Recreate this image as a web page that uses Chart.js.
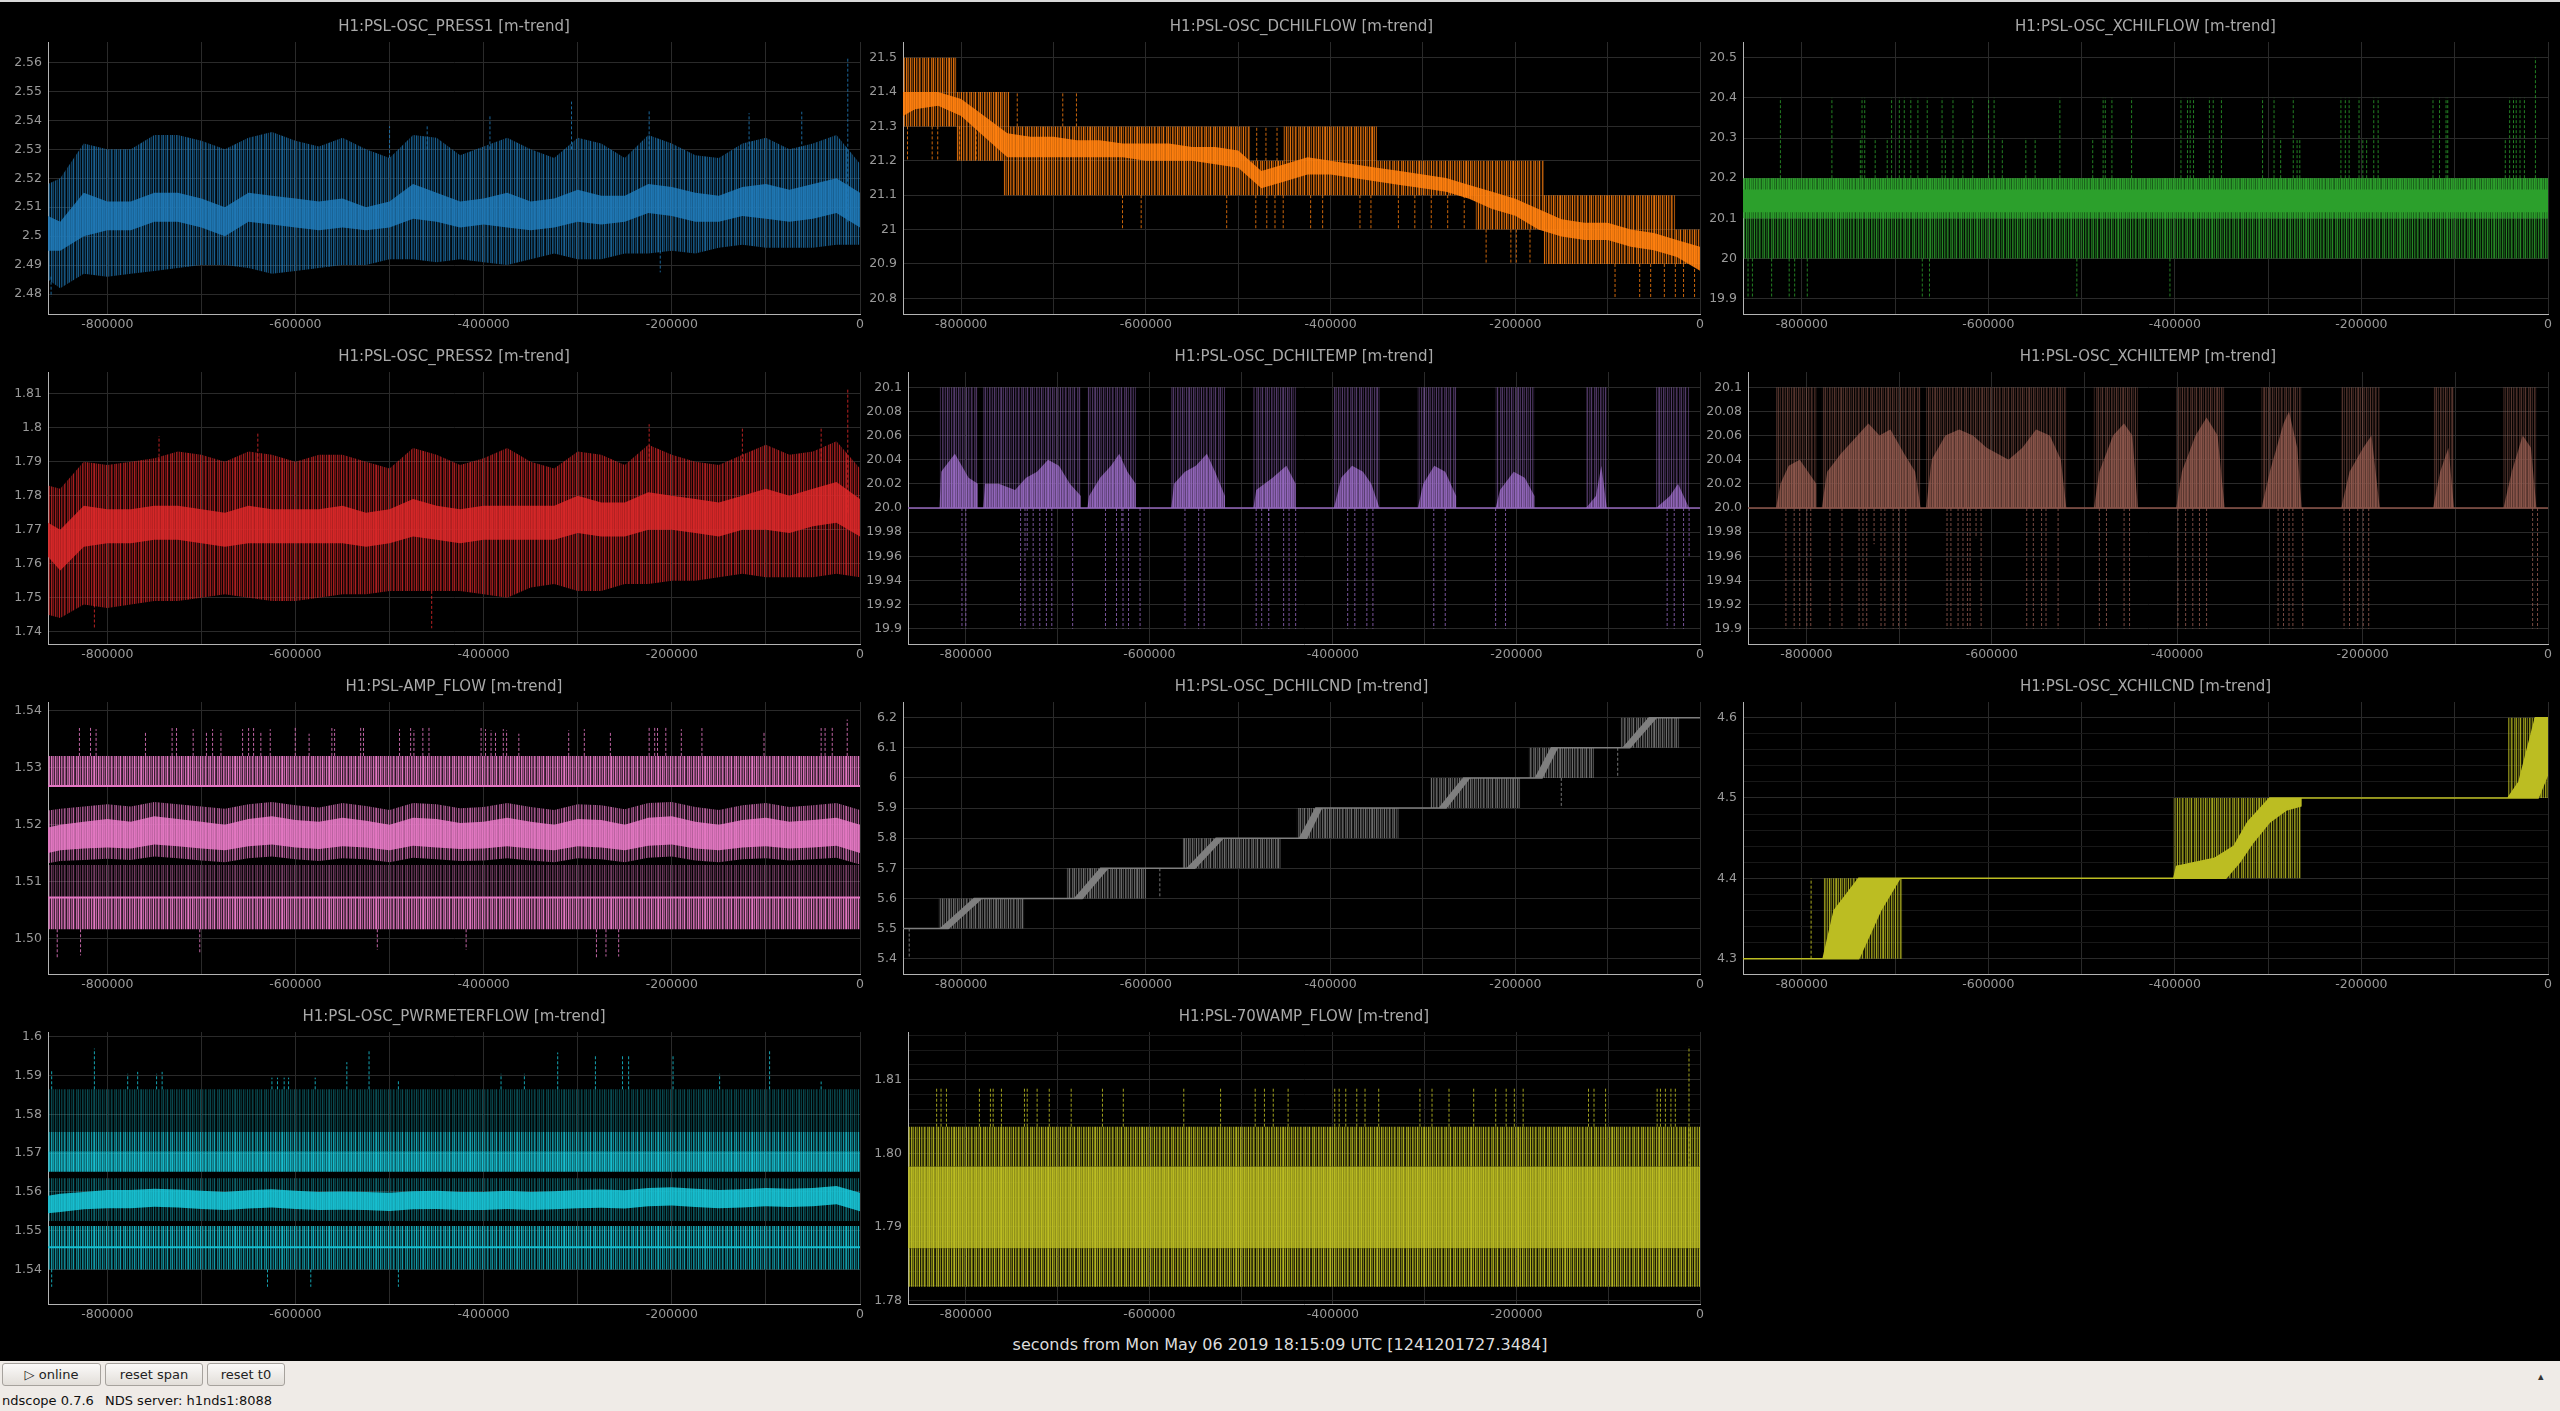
<!DOCTYPE html>
<html><head><meta charset="utf-8">
<script src="https://cdn.jsdelivr.net/npm/chart.js@4.4.1/dist/chart.umd.min.js"></script>
<style>
html,body{margin:0;padding:0;background:#000;width:2560px;height:1411px;overflow:hidden;font-family:"DejaVu Sans",sans-serif;}
#topline{position:absolute;left:0;top:0;width:2560px;height:2px;background:#d9d9d9}
canvas{position:absolute}
#xlabel{position:absolute;left:0;width:2560px;top:1335px;text-align:center;color:#dcdcdc;font-size:16px;line-height:20px}
#bar{position:absolute;left:0;top:1361px;width:2560px;height:50px;background:#efebe7}
.btn{position:absolute;top:2px;height:21px;border:1px solid #a6a29d;border-radius:3px;background:linear-gradient(#fbfaf9,#e2ded9);font-size:13px;line-height:21px;text-align:center;color:#222}
.status{position:absolute;top:32px;font-size:13px;line-height:16px;color:#111;white-space:pre}
</style></head>
<body>
<div id="topline"></div>
<div id="xlabel">seconds from Mon May 06 2019 18:15:09 UTC [1241201727.3484]</div>
<div id="bar">
  <div class="btn" style="left:2px;width:97px">&#9655; online</div>
  <div class="btn" style="left:105px;width:96px">reset span</div>
  <div class="btn" style="left:207px;width:76px">reset t0</div>
  <div class="status" style="left:2px">ndscope 0.7.6</div>
  <div class="status" style="left:105px">NDS server: h1nds1:8088</div>
  <div class="status" style="left:2538px;top:8px;font-size:11px;color:#333">&#9652;</div>
</div>
<script>
Chart.defaults.font.family = '"DejaVu Sans", sans-serif';

// ---------------- axes ----------------
const X_MIN = -863000;
const xTickVals = [-800000,-700000,-600000,-500000,-400000,-300000,-200000,-100000,0];
const xTickLabels = ['-800000','','-600000','','-400000','','-200000','','0'];

// shared sample times (seconds)
const T = [-863000,-850000,-825000,-800000,-775000,-750000,-725000,-700000,-675000,-650000,-625000,-600000,-575000,-550000,-525000,-500000,-475000,-450000,-425000,-400000,-375000,-350000,-325000,-300000,-275000,-250000,-225000,-200000,-175000,-150000,-125000,-100000,-75000,-50000,-25000,0];
const T2 = [-863000, 0];

// ---------------- PRESS1 ----------------
const p1TickVals = [2.48,2.49,2.5,2.51,2.52,2.53,2.54,2.55,2.56];
const p1TickLabels = ['2.48','2.49','2.5','2.51','2.52','2.53','2.54','2.55','2.56'];
const p1Max = [2.518,2.520,2.532,2.530,2.530,2.535,2.535,2.533,2.530,2.534,2.536,2.533,2.531,2.534,2.530,2.527,2.535,2.534,2.528,2.531,2.534,2.530,2.527,2.534,2.532,2.527,2.535,2.532,2.528,2.527,2.532,2.534,2.530,2.532,2.535,2.525];
const p1Min = [2.485,2.482,2.487,2.486,2.487,2.488,2.489,2.490,2.490,2.489,2.487,2.488,2.489,2.490,2.490,2.492,2.492,2.491,2.492,2.491,2.490,2.492,2.494,2.492,2.492,2.494,2.494,2.495,2.494,2.496,2.497,2.496,2.496,2.496,2.497,2.497];
const p1CoreHi = [2.507,2.505,2.515,2.512,2.512,2.515,2.515,2.513,2.510,2.515,2.514,2.513,2.512,2.513,2.510,2.512,2.518,2.515,2.512,2.513,2.515,2.512,2.513,2.516,2.514,2.514,2.518,2.517,2.515,2.514,2.517,2.518,2.516,2.518,2.520,2.515];
const p1CoreLo = [2.495,2.495,2.500,2.502,2.502,2.505,2.505,2.503,2.500,2.505,2.504,2.503,2.502,2.503,2.502,2.503,2.506,2.505,2.503,2.504,2.503,2.502,2.503,2.505,2.504,2.505,2.508,2.507,2.505,2.505,2.507,2.506,2.505,2.506,2.508,2.503];
const p1Spikes = [[-13000,2.505,2.5615],[-306600,2.53,2.5465],[-393300,2.53,2.542],[-224100,2.53,2.5435],[-61900,2.53,2.543],[-117900,2.53,2.5425],[-859700,2.486,2.479],[-212300,2.495,2.4875],[-500000,2.527,2.538],[-460000,2.53,2.5385]];

// ---------------- DCHILFLOW ----------------
const dfTickVals = [20.8,20.9,21,21.1,21.2,21.3,21.4,21.5];
const dfTickLabels = ['20.8','20.9','21','21.1','21.2','21.3','21.4','21.5'];
const dfX   = [-863000,-805000,-805000,-754000,-754000,-748000,-748000,-487000,-487000,-451000,-451000,-350000,-350000,-243000,-243000,-169000,-169000,-27000,-27000,0];
const dfMax = [21.5,21.5,21.4,21.4,21.4,21.4,21.3,21.3,21.2,21.2,21.3,21.3,21.2,21.2,21.2,21.2,21.1,21.1,21.0,21.0];
const dfMin = [21.3,21.3,21.2,21.2,21.1,21.1,21.1,21.1,21.1,21.1,21.1,21.1,21.1,21.1,21.0,21.0,20.9,20.9,20.9,20.9];
const dfCoreHi = [21.40,21.40,21.40,21.38,21.33,21.28,21.27,21.27,21.26,21.26,21.25,21.25,21.25,21.24,21.24,21.23,21.17,21.19,21.21,21.20,21.19,21.18,21.17,21.16,21.15,21.13,21.11,21.09,21.06,21.03,21.02,21.02,21.00,20.99,20.97,20.95];
const dfCoreLo = [21.33,21.35,21.36,21.33,21.27,21.21,21.21,21.21,21.21,21.21,21.21,21.20,21.20,21.20,21.19,21.18,21.12,21.14,21.16,21.16,21.15,21.14,21.13,21.12,21.11,21.09,21.06,21.04,21.00,20.98,20.97,20.97,20.95,20.94,20.92,20.88];
const dfSpikes = [[-858100,21.3,21.2],[-831400,21.3,21.2],[-825400,21.3,21.2],[-801700,21.3,21.2],[-783800,21.3,21.2],
  [-739300,21.3,21.4],[-690000,21.3,21.4],[-675200,21.3,21.4],[-480000,21.2,21.3],[-470000,21.2,21.3],[-458000,21.2,21.3],
  [-625300,21.1,21.0],[-605100,21.1,21.0],[-512500,21.1,21.0],[-481000,21.1,21.0],[-469100,21.1,21.0],[-460200,21.1,21.0],[-451300,21.1,21.0],[-421600,21.1,21.0],[-408600,21.1,21.0],[-368200,21.1,21.0],[-356300,21.1,21.0],[-326600,21.1,21.0],[-308800,21.1,21.0],[-291000,21.1,21.0],[-273200,21.1,21.0],[-255300,21.1,21.0],
  [-231600,21.0,20.9],[-204800,21.0,20.9],[-198900,21.0,20.9],[-184100,21.0,20.9],
  [-92000,20.9,20.8],[-65300,20.9,20.8],[-53400,20.9,20.8],[-38600,20.9,20.8],[-26700,20.9,20.8],[-17800,20.9,20.8],[-5900,20.9,20.8]];

// ---------------- XCHILFLOW ----------------
const xfTickVals = [19.9,20,20.1,20.2,20.3,20.4,20.5];
const xfTickLabels = ['19.9','20','20.1','20.2','20.3','20.4','20.5'];
const xfMax = [20.2,20.2], xfMin = [20.0,20.0];
const xfUpperHi = [20.2,20.2], xfUpperLo = [20.1,20.1];
const xfCoreHi = [20.172,20.172], xfCoreLo = [20.115,20.115];
const xfUp4X = [-822900,-767700,-735400,-732500,-703700,-695400,-690100,-683100,-675500,-665500,-649600,-637900,-616700,-599700,-593800,-523300,-476900,-474600,-467500,-446400,-393500,-386500,-383600,-380000,-363000,-358900,-350100,-306000,-293700,-273100,-222000,-217300,-213200,-202600,-186800,-182100,-123300,-116300,-109300,-107500,-41100,-37000,-34100,-30000,-25300];
const xfUp3X = [-737200,-721300,-708400,-646100,-627300,-585000,-559800,-549800,-488100,-286600,-269000,-266100,-198500,-194400,-45800];
const xfDnX = [-857600,-852900,-832300,-813500,-807600,-794100,-670800,-663100,-505100,-405300];
const xfSpikes = xfUp4X.map(x=>[x,20.2,20.4]).concat(xfUp3X.map(x=>[x,20.2,20.3]), xfDnX.map(x=>[x,20.0,19.9]), [[-13500,20.2,20.5]]);

// ---------------- PRESS2 ----------------
const p2TickVals = [1.74,1.75,1.76,1.77,1.78,1.79,1.8,1.81];
const p2TickLabels = ['1.74','1.75','1.76','1.77','1.78','1.79','1.8','1.81'];
const p2Max = [1.783,1.782,1.790,1.789,1.790,1.791,1.793,1.792,1.790,1.793,1.792,1.790,1.792,1.792,1.790,1.788,1.794,1.792,1.789,1.791,1.794,1.790,1.788,1.793,1.792,1.789,1.795,1.792,1.790,1.789,1.792,1.795,1.792,1.793,1.796,1.788];
const p2Min = [1.745,1.744,1.748,1.747,1.748,1.749,1.749,1.750,1.751,1.750,1.749,1.749,1.750,1.751,1.751,1.752,1.752,1.752,1.752,1.751,1.750,1.753,1.754,1.752,1.752,1.754,1.754,1.755,1.755,1.756,1.757,1.756,1.756,1.756,1.757,1.756];
const p2CoreHi = [1.772,1.770,1.777,1.776,1.776,1.777,1.777,1.776,1.775,1.777,1.776,1.776,1.776,1.777,1.775,1.776,1.779,1.777,1.776,1.777,1.777,1.777,1.777,1.780,1.778,1.778,1.781,1.780,1.779,1.778,1.780,1.782,1.780,1.782,1.784,1.779];
const p2CoreLo = [1.762,1.758,1.765,1.766,1.766,1.767,1.767,1.766,1.765,1.766,1.766,1.766,1.766,1.766,1.765,1.766,1.768,1.767,1.766,1.767,1.767,1.767,1.767,1.769,1.768,1.768,1.770,1.770,1.769,1.768,1.770,1.770,1.769,1.771,1.772,1.768];
const p2Spikes = [[-13000,1.775,1.8115],[-224100,1.79,1.801],[-125000,1.79,1.800],[-41300,1.79,1.800],[-455200,1.752,1.741],[-813700,1.748,1.741],[-745000,1.79,1.7975],[-640000,1.79,1.7985]];

// ---------------- DCHILTEMP / XCHILTEMP ----------------
const tempTickVals = [19.9,19.92,19.94,19.96,19.98,20,20.02,20.04,20.06,20.08,20.1];
const tempTickLabels = ['19.9','19.92','19.94','19.96','19.98','20.0','20.02','20.04','20.06','20.08','20.1'];
const tempBase = 20.0, tempTop = 20.1;
const dtClusterStart = [-828700,-780900,-667500,-576100,-486600,-398800,-307500,-222700,-124200,-47800];
const dtClusterEnd   = [-786900,-674600,-614900,-517600,-440600,-349300,-265700,-180300,-101500,-11900];
const dtCoreX = [-863000,-828700,-826900,-811900,-797000,-786900,-786900,-780900,-779100,-764200,-746300,-734300,-722400,-710400,-698500,-686600,-674600,-674600,-667500,-665700,-653700,-641800,-632800,-623900,-614900,-614900,-576100,-573100,-561200,-549300,-537300,-528400,-517600,-517600,-486600,-483600,-465700,-450700,-440600,-440600,-398800,-391000,-379100,-367200,-358200,-349300,-307500,-301500,-289600,-277600,-265700,-265700,-222700,-217900,-203000,-191000,-180300,-180300,-124200,-113400,-107500,-101500,-47800,-32800,-23900,-11900,0];
const dtCoreY = [20.0,20.0,20.03,20.045,20.025,20.02,20.0,20.0,20.02,20.02,20.015,20.025,20.03,20.04,20.035,20.02,20.01,20.0,20.0,20.01,20.025,20.035,20.045,20.03,20.02,20.0,20.0,20.02,20.03,20.035,20.045,20.03,20.01,20.0,20.0,20.015,20.025,20.035,20.02,20.0,20.0,20.025,20.035,20.03,20.02,20.0,20.0,20.02,20.035,20.03,20.01,20.0,20.0,20.015,20.03,20.025,20.01,20.0,20.0,20.01,20.035,20.0,20.0,20.01,20.02,20.0,20.0];
const dtDownX = [-804200,-800000,-740300,-735500,-726600,-719400,-712200,-706300,-683600,-647800,-635800,-628700,-622700,-610100,-561200,-546300,-540300,-483600,-477600,-469900,-453700,-447800,-440600,-383900,-376100,-363000,-356400,-290100,-277600,-222700,-211900,-35800,-28100,-17900];
const dtSpikes = dtDownX.map(x=>[x,20.0,19.9]).concat([[-11900,20.0,19.96],[-733100,20.0,19.965],[-630000,20.0,19.98],[-470000,20.0,19.985]]);

const xtClusterStart = [-832700,-783500,-670800,-489900,-401000,-309000,-223000,-124000,-48000];
const xtClusterEnd   = [-789400,-676800,-519600,-442500,-348800,-265700,-181500,-101400,-12500];
const xtCoreX = [-863000,-832700,-828000,-819100,-807200,-798300,-789400,-789400,-783500,-777600,-762800,-744900,-733100,-721200,-709400,-694500,-682700,-676800,-670800,-664900,-650100,-635200,-620400,-605600,-593700,-581900,-567000,-552200,-537400,-525500,-519600,-489900,-484000,-469200,-457300,-448400,-442500,-401000,-395000,-380200,-368300,-356500,-348800,-309000,-300100,-285300,-279400,-270500,-265700,-223000,-214100,-199300,-190400,-181500,-124000,-116300,-107400,-101400,-48000,-39100,-27300,-18400,-12500,0];
const xtCoreY = [20.0,20.0,20.02,20.035,20.04,20.03,20.02,20.0,20.0,20.03,20.045,20.06,20.07,20.06,20.065,20.045,20.03,20.0,20.0,20.04,20.06,20.065,20.06,20.05,20.045,20.04,20.05,20.065,20.06,20.04,20.0,20.0,20.03,20.06,20.07,20.06,20.0,20.0,20.03,20.06,20.075,20.06,20.0,20.0,20.03,20.07,20.08,20.05,20.0,20.0,20.03,20.05,20.06,20.0,20.0,20.03,20.05,20.0,20.0,20.03,20.06,20.05,20.0,20.0];
const xtDownX = [-822100,-813200,-807200,-799500,-795300,-774600,-761600,-743200,-739000,-734900,-719500,-715300,-706400,-700500,-692800,-648300,-644100,-636400,-631100,-626300,-623400,-611500,-562300,-555200,-546300,-541500,-528500,-484000,-476300,-457300,-451400,-399200,-390900,-383200,-376000,-368300,-291200,-285300,-279400,-275200,-264600,-220000,-214100,-205200,-199300,-193400,-16600,-11300];
const xtSpikes = xtDownX.map(x=>[x,20.0,19.9]).concat([[-727000,20.0,19.97],[-617000,20.0,19.975]]);

// ---------------- AMP_FLOW ----------------
const ampTickVals = [1.5,1.51,1.52,1.53,1.54];
const ampTickLabels = ['1.50','1.51','1.52','1.53','1.54'];
const ampUpperHi = [1.5321,1.5321], ampUpperLo = [1.5268,1.5268];
const ampSparseHi = [1.5129,1.5129], ampSparseLo = [1.5072,1.5072];
const ampLowerHi = [1.5072,1.5072], ampLowerLo = [1.5016,1.5016];
const ampMidHi = [1.5225,1.5228,1.5232,1.5236,1.5232,1.5240,1.5236,1.5232,1.5228,1.5236,1.5240,1.5234,1.5230,1.5238,1.5233,1.5226,1.5238,1.5236,1.5229,1.5231,1.5238,1.5231,1.5226,1.5236,1.5234,1.5227,1.5238,1.5240,1.5231,1.5226,1.5234,1.5238,1.5231,1.5234,1.5238,1.5226];
const ampMidLo = [1.5132,1.5136,1.5138,1.5140,1.5138,1.5144,1.5141,1.5137,1.5134,1.5141,1.5144,1.5139,1.5136,1.5141,1.5139,1.5134,1.5142,1.5139,1.5136,1.5137,1.5141,1.5137,1.5134,1.5141,1.5139,1.5134,1.5142,1.5144,1.5137,1.5134,1.5139,1.5141,1.5137,1.5139,1.5142,1.5130];
const ampCoreHi = [1.5195,1.5200,1.5205,1.5210,1.5205,1.5215,1.5210,1.5205,1.5200,1.5210,1.5215,1.5208,1.5205,1.5212,1.5207,1.5200,1.5212,1.5210,1.5203,1.5205,1.5212,1.5205,1.5200,1.5210,1.5208,1.5200,1.5212,1.5215,1.5205,1.5200,1.5208,1.5212,1.5205,1.5208,1.5212,1.5200];
const ampCoreLo = [1.5150,1.5155,1.5158,1.5160,1.5158,1.5165,1.5162,1.5158,1.5155,1.5162,1.5165,1.5160,1.5157,1.5162,1.5160,1.5155,1.5163,1.5160,1.5157,1.5158,1.5162,1.5158,1.5155,1.5162,1.5160,1.5155,1.5163,1.5165,1.5158,1.5155,1.5160,1.5162,1.5158,1.5160,1.5163,1.5150];
const ampUpX = [-829600,-817800,-811900,-759400,-731100,-726400,-708700,-694600,-688100,-679200,-656200,-649800,-644500,-636800,-626800,-600200,-585500,-561300,-558400,-530700,-527700,-489400,-477600,-474100,-464600,-458100,-402700,-398000,-392100,-387400,-379100,-375600,-362600,-309600,-293000,-265300,-224100,-218200,-215200,-206400,-189900,-168000,-102000,-41300,-37100,-29500];
const ampUpTop = [1.5370,1.5372,1.5368,1.5365,1.5370,1.5370,1.5368,1.5365,1.5368,1.5366,1.5368,1.5370,1.5370,1.5365,1.5368,1.5372,1.5360,1.5370,1.5368,1.5372,1.5370,1.5368,1.5370,1.5366,1.5370,1.5372,1.5370,1.5368,1.5366,1.5364,1.5368,1.5366,1.5360,1.5366,1.5368,1.5364,1.5372,1.5372,1.5370,1.5372,1.5368,1.5370,1.5362,1.5370,1.5370,1.5372];
const ampSpikes = ampUpX.map((x,i)=>[x,1.5321,ampUpTop[i]]).concat([[-13600,1.5321,1.5385],[-853200,1.5016,1.4965],[-828400,1.5016,1.497],[-701700,1.5016,1.4975],[-513000,1.5016,1.498],[-418600,1.5016,1.498],[-280100,1.5016,1.4965],[-270000,1.5016,1.4968],[-256500,1.5016,1.4968]]);

// ---------------- DCHILCND ----------------
const dcTickVals = [5.4,5.5,5.6,5.7,5.8,5.9,6,6.1,6.2];
const dcTickLabels = ['5.4','5.5','5.6','5.7','5.8','5.9','6','6.1','6.2'];
const dcLevels = [5.5,5.5,5.6,5.6,5.7,5.7,5.8,5.8,5.9,5.9,6.0,6.0,6.1,6.1,6.2,6.2];
const dcMaxX = [-863000,-824200,-824200,-685900,-685900,-560000,-560000,-436500,-436500,-292200,-292200,-185300,-185300,-86100,-86100,0];
const dcMinX = [-863000,-731600,-731600,-599800,-599800,-454300,-454300,-326600,-326600,-194800,-194800,-114600,-114600,-22600,-22600,0];
const dcCoreHiX = [-863000,-822400,-786000,-677000,-649000,-555200,-524000,-433500,-416000,-282100,-256000,-178100,-161000,-83100,-55000,0];
const dcCoreLoX = [-863000,-814000,-777900,-669000,-641300,-547000,-516600,-426000,-409700,-275000,-249400,-171000,-154400,-76000,-47500,0];
const dcSpikes = [[-856300,5.5,5.4],[-584900,5.7,5.6],[-150200,6.0,5.9],[-89100,6.1,6.0]];

// ---------------- XCHILCND ----------------
const xcTickVals = [4.3,4.32,4.34,4.36,4.38,4.4,4.42,4.44,4.46,4.48,4.5,4.52,4.54,4.56,4.58,4.6];
const xcTickLabels = ['4.3','','','','','4.4','','','','','4.5','','','','','4.6'];
const xcMaxX = [-863000,-777100,-777100,-401200,-401200,-42900,-42900,0];
const xcMaxY = [4.3,4.3,4.4,4.4,4.5,4.5,4.6,4.6];
const xcMinX = [-863000,-691900,-691900,-264900,-264900,0];
const xcMinY = [4.3,4.3,4.4,4.4,4.5,4.5];
const xcCoreHiX = [-863000,-777100,-765300,-738900,-401200,-398200,-357100,-336600,-321900,-298400,-42900,-31100,-22300,-13500,0];
const xcCoreHiY = [4.3,4.3,4.36,4.4,4.4,4.415,4.425,4.44,4.47,4.5,4.5,4.52,4.56,4.6,4.6];
const xcCoreLoX = [-863000,-738900,-715400,-694900,-345400,-330700,-316000,-298400,-280800,-264900,-264900,-10600,0];
const xcCoreLoY = [4.3,4.3,4.36,4.4,4.4,4.42,4.445,4.47,4.485,4.49,4.5,4.5,4.53];
const xcSpikes = [[-790000,4.3,4.4]];

// ---------------- PWRMETERFLOW ----------------
const pwTickVals = [1.54,1.55,1.56,1.57,1.58,1.59,1.6];
const pwTickLabels = ['1.54','1.55','1.56','1.57','1.58','1.59','1.6'];
const pwA = [1.5652,1.5705], pwB = [1.5705,1.5755], pwC = [1.5755,1.5865], pwD = [1.5457,1.5512], pwE = [1.5400,1.5457], pwHalo = [1.5525,1.5635];
const pwCoreHi = [1.5590,1.5595,1.5600,1.5605,1.5605,1.5608,1.5606,1.5603,1.5600,1.5604,1.5607,1.5603,1.5600,1.5601,1.5600,1.5598,1.5602,1.5603,1.5600,1.5600,1.5603,1.5600,1.5602,1.5605,1.5606,1.5604,1.5610,1.5612,1.5608,1.5605,1.5607,1.5610,1.5608,1.5610,1.5615,1.5598];
const pwCoreLo = [1.5545,1.5548,1.5555,1.5558,1.5558,1.5562,1.5560,1.5556,1.5553,1.5557,1.5560,1.5556,1.5553,1.5554,1.5553,1.5551,1.5555,1.5556,1.5553,1.5553,1.5556,1.5553,1.5555,1.5558,1.5559,1.5557,1.5563,1.5565,1.5561,1.5558,1.5560,1.5563,1.5561,1.5563,1.5568,1.5550];
const pwUp = [[-859100,1.5915],[-813700,1.597],[-778300,1.5905],[-767700,1.591],[-747600,1.5905],[-741700,1.591],[-625000,1.5895],[-619100,1.5895],[-612000,1.5895],[-607300,1.5895],[-579000,1.5895],[-545400,1.5935],[-521800,1.5965],[-490600,1.589],[-381500,1.5905],[-356700,1.5905],[-321300,1.596],[-281200,1.5955],[-252400,1.5955],[-245900,1.5955],[-198700,1.5955],[-149200,1.5905],[-96100,1.5965],[-41300,1.5885]];
const pwDownX = [-859100,-629700,-583700,-490600];
const pwSpikes = pwUp.map(([x,t])=>[x,1.5865,t]).concat(pwDownX.map(x=>[x,1.540,1.5355]));

// ---------------- 70WAMP_FLOW ----------------
const w7TickVals = [1.78,1.782,1.784,1.786,1.788,1.79,1.792,1.794,1.796,1.798,1.8,1.802,1.804,1.806,1.808,1.81,1.812,1.814,1.816];
const w7TickLabels = ['1.78','','','','','1.79','','','','','1.80','','','','','1.81','','',''];
const w7Top = [1.7982,1.8036], w7Core = [1.7871,1.7982], w7Bot = [1.7819,1.7871];
const w7UpX = [-831800,-827000,-821100,-785200,-773200,-770200,-761200,-736100,-733100,-722300,-709100,-685200,-651100,-628400,-562500,-522400,-484700,-474600,-465000,-448800,-398000,-393200,-386000,-374000,-365000,-350100,-305200,-292000,-273500,-246600,-222600,-211200,-202300,-192700,-121500,-115500,-102900,-46700,-43100,-37700,-31700,-26900];
const w7Spikes = w7UpX.map(x=>[x,1.8036,1.809]).concat([[-12000,1.7982,1.8145]]);

// ---------------- colours ----------------
const BLUE='#1f77b4', ORANGE='#ff7f0e', GREEN='#2ca02c', RED='#d62728', PURPLE='#9467bd', BROWN='#8c564b', PINK='#e377c2', GRAY='#7f7f7f', OLIVE='#bcbd22', CYAN='#17becf';
const TICK='#9a9a9a', GRID='#2a2a2a', MINOR='#181818', AXIS='#b4b4b4';

// ---------------- helpers (styling) ----------------
const ST = [1,.25,.8,.05,.95,.4,.65,.1,.9,.3,.55,.15,1,.05,.75,.35,.2,.85,.5,0,.7,.45,.9,.1,.6,.3,1,.2,.05,.8,.4,.95,.15,.65,0,.85,.5,.25,.75,.1,1,.35,.6,.05,.9,.2,.7];
function rgba(hex,a){const n=parseInt(hex.slice(1),16);return 'rgba('+(n>>16&255)+','+(n>>8&255)+','+(n&255)+','+a+')';}
function tex(hex,lo,hi){
  const c=document.createElement('canvas');c.width=ST.length;c.height=1;
  const g=c.getContext('2d');
  ST.forEach((a,i)=>{g.fillStyle=rgba(hex,(lo+(hi-lo)*a).toFixed(3));g.fillRect(i,0,1,1);});
  return g.createPattern(c,'repeat');
}
const pts=(xs,ys)=>xs.map((x,i)=>({x,y:ys[i]}));
function band(xh,hi,xl,lo,bg,order,border,bw){
  return {data:pts(xh,hi).concat(pts(xl,lo).reverse()),fill:'shape',backgroundColor:bg,borderColor:border||'transparent',borderWidth:bw||0,pointRadius:0,order};
}
function area(xs,ys,base,bg,order){return {data:pts(xs,ys),fill:{value:base},backgroundColor:bg,borderWidth:0,pointRadius:0,order};}
function line(xs,ys,color,w,order){return {data:pts(xs,ys),fill:false,borderColor:color,borderWidth:w,pointRadius:0,order};}
function spikes(list,color,order){
  const data=[];list.slice().sort((a,b)=>a[0]-b[0]).forEach(([x,a,b])=>{data.push({x,y:a},{x,y:b},{x,y:null});});
  return {data,fill:false,borderColor:color,borderWidth:1,borderDash:[3,2],pointRadius:0,spanGaps:false,order};
}
function clusters(starts,ends,base,top){
  const xs=[X_MIN],ys=[base];
  starts.forEach((s,i)=>{xs.push(s,s,ends[i],ends[i]);ys.push(base,top,top,base);});
  xs.push(0);ys.push(base);return [xs,ys];
}

const titlePlugin={id:'ptitle',afterDraw(chart,args,opts){
  const {ctx,chartArea:a}=chart;ctx.save();
  ctx.font='15px "DejaVu Sans"';ctx.fillStyle='#a9a9a9';ctx.textAlign='center';ctx.textBaseline='middle';
  ctx.fillText(opts.text,(a.left+a.right)/2,a.top-15);ctx.restore();
}};

const YW=48, RP=14, CH=336;
function makeChart(p){
  const cv=document.createElement('canvas');
  const w=p.right-p.left+YW+RP;
  cv.width=w;cv.height=CH;
  cv.style.left=(p.left-YW)+'px';cv.style.top=(p.row*330)+'px';
  cv.style.width=w+'px';cv.style.height=CH+'px';
  document.body.appendChild(cv);
  const yv=p.yVals, yl=p.yLabels;
  new Chart(cv,{type:'line',data:{datasets:p.ds},plugins:[titlePlugin],options:{
    responsive:false,animation:false,events:[],devicePixelRatio:1,
    layout:{padding:{left:0,right:RP,top:42,bottom:0}},
    plugins:{legend:{display:false},tooltip:{enabled:false},ptitle:{text:p.title}},
    scales:{
      x:{type:'linear',min:X_MIN,max:0,offset:false,
        afterFit:s=>{s.height=22;},
        afterBuildTicks:s=>{s.ticks=xTickVals.map(v=>({value:v}));},
        ticks:{autoSkip:false,maxRotation:0,padding:3,color:TICK,font:{size:12.5},
          callback:v=>{const i=xTickVals.indexOf(v);return i<0?'':xTickLabels[i];}},
        grid:{color:GRID,drawTicks:false},border:{color:AXIS,width:1}},
      y:{type:'linear',min:p.yMin,max:p.yMax,
        afterFit:s=>{s.width=YW;},
        afterBuildTicks:s=>{s.ticks=yv.map(v=>({value:v}));},
        ticks:{autoSkip:false,padding:6,color:TICK,font:{size:12.5},
          callback:v=>{const i=yv.indexOf(v);return i<0?'':yl[i];}},
        grid:{drawTicks:false,color:c=>{const i=yv.indexOf(c.tick&&c.tick.value);return (i>=0&&yl[i]!=='')?GRID:MINOR;}},
        border:{color:AXIS,width:1}}
    }}});
}

const dtC = clusters(dtClusterStart,dtClusterEnd,tempBase,tempTop);
const xtC = clusters(xtClusterStart,xtClusterEnd,tempBase,tempTop);

const panels=[
 {title:'H1:PSL-OSC_PRESS1 [m-trend]',row:0,left:48,right:860,yMin:2.4731,yMax:2.5671,yVals:p1TickVals,yLabels:p1TickLabels,
  ds:[band(T,p1Max,T,p1Min,tex(BLUE,.04,.8),50),band(T,p1CoreHi,T,p1CoreLo,tex(BLUE,.8,1),20),spikes(p1Spikes,rgba(BLUE,.85),60)]},
 {title:'H1:PSL-OSC_DCHILFLOW [m-trend]',row:0,left:903,right:1700,yMin:20.7545,yMax:21.5455,yVals:dfTickVals,yLabels:dfTickLabels,
  ds:[band(dfX,dfMax,dfX,dfMin,tex(ORANGE,.04,.88),50),band(T,dfCoreHi,T,dfCoreLo,tex(ORANGE,.8,1),20),spikes(dfSpikes,rgba(ORANGE,.8),60)]},
 {title:'H1:PSL-OSC_XCHILFLOW [m-trend]',row:0,left:1743,right:2548,yMin:19.8619,yMax:20.539,yVals:xfTickVals,yLabels:xfTickLabels,
  ds:[band(T2,xfMax,T2,xfMin,tex(GREEN,.08,.85),50),band(T2,xfUpperHi,T2,xfUpperLo,tex(GREEN,.55,1),40),band(T2,xfCoreHi,T2,xfCoreLo,GREEN,20),spikes(xfSpikes,rgba(GREEN,.8),60)]},
 {title:'H1:PSL-OSC_PRESS2 [m-trend]',row:1,left:48,right:860,yMin:1.73638,yMax:1.81636,yVals:p2TickVals,yLabels:p2TickLabels,
  ds:[band(T,p2Max,T,p2Min,tex(RED,.04,.8),50),band(T,p2CoreHi,T,p2CoreLo,tex(RED,.8,1),20),spikes(p2Spikes,rgba(RED,.85),60)]},
 {title:'H1:PSL-OSC_DCHILTEMP [m-trend]',row:1,left:908,right:1700,yMin:19.8873,yMax:20.1127,yVals:tempTickVals,yLabels:tempTickLabels,
  ds:[area(dtC[0],dtC[1],tempBase,tex(PURPLE,0,.55),50),area(dtCoreX,dtCoreY,tempBase,tex(PURPLE,.6,1),20),line(T2,[tempBase,tempBase],PURPLE,1.5,10),spikes(dtSpikes,rgba(PURPLE,.8),60)]},
 {title:'H1:PSL-OSC_XCHILTEMP [m-trend]',row:1,left:1748,right:2548,yMin:19.8873,yMax:20.1127,yVals:tempTickVals,yLabels:tempTickLabels,
  ds:[area(xtC[0],xtC[1],tempBase,tex(BROWN,0,.6),50),area(xtCoreX,xtCoreY,tempBase,tex(BROWN,.6,1),20),line(T2,[tempBase,tempBase],BROWN,1.5,10),spikes(xtSpikes,rgba(BROWN,.85),60)]},
 {title:'H1:PSL-AMP_FLOW [m-trend]',row:2,left:48,right:860,yMin:1.49373,yMax:1.54158,yVals:ampTickVals,yLabels:ampTickLabels,
  ds:[band(T2,ampUpperHi,T2,ampUpperLo,tex(PINK,.2,1),50),band(T2,ampSparseHi,T2,ampSparseLo,tex(PINK,0,.5),50),band(T2,ampLowerHi,T2,ampLowerLo,tex(PINK,.2,1),50),
      band(T,ampMidHi,T,ampMidLo,tex(PINK,.03,.8),40),band(T,ampCoreHi,T,ampCoreLo,tex(PINK,.8,1),20),
      line(T2,ampUpperLo,PINK,2,10),line(T2,ampLowerHi,PINK,2,10),spikes(ampSpikes,rgba(PINK,.85),60)]},
 {title:'H1:PSL-OSC_DCHILCND [m-trend]',row:2,left:903,right:1700,yMin:5.3492,yMax:6.2519,yVals:dcTickVals,yLabels:dcTickLabels,
  ds:[band(dcMaxX,dcLevels,dcMinX,dcLevels,tex(GRAY,.05,.85),50),band(dcCoreHiX,dcLevels,dcCoreLoX,dcLevels,GRAY,20,GRAY,1.5),spikes(dcSpikes,rgba(GRAY,.9),60)]},
 {title:'H1:PSL-OSC_XCHILCND [m-trend]',row:2,left:1743,right:2548,yMin:4.2809,yMax:4.6195,yVals:xcTickVals,yLabels:xcTickLabels,
  ds:[band(xcMaxX,xcMaxY,xcMinX,xcMinY,tex(OLIVE,.05,.85),50),band(xcCoreHiX,xcCoreHiY,xcCoreLoX,xcCoreLoY,OLIVE,20,OLIVE,1.5),spikes(xcSpikes,rgba(OLIVE,.9),60)]},
 {title:'H1:PSL-OSC_PWRMETERFLOW [m-trend]',row:3,left:48,right:860,yMin:1.53106,yMax:1.60129,yVals:pwTickVals,yLabels:pwTickLabels,
  ds:[band(T2,[pwA[1],pwA[1]],T2,[pwA[0],pwA[0]],tex(CYAN,.5,1),50),band(T2,[pwB[1],pwB[1]],T2,[pwB[0],pwB[0]],tex(CYAN,.1,.85),50),
      band(T2,[pwC[1],pwC[1]],T2,[pwC[0],pwC[0]],tex(CYAN,0,.4),50),band(T2,[pwD[1],pwD[1]],T2,[pwD[0],pwD[0]],tex(CYAN,.12,.95),50),
      band(T2,[pwE[1],pwE[1]],T2,[pwE[0],pwE[0]],tex(CYAN,.05,.8),50),band(T2,[pwHalo[1],pwHalo[1]],T2,[pwHalo[0],pwHalo[0]],tex(CYAN,0,.5),45),
      band(T,pwCoreHi,T,pwCoreLo,tex(CYAN,.85,1),20),line(T2,[pwD[0],pwD[0]],CYAN,2,10),spikes(pwSpikes,rgba(CYAN,.85),60)]},
 {title:'H1:PSL-70WAMP_FLOW [m-trend]',row:3,left:908,right:1700,yMin:1.77955,yMax:1.81645,yVals:w7TickVals,yLabels:w7TickLabels,
  ds:[band(T2,[w7Top[1],w7Top[1]],T2,[w7Top[0],w7Top[0]],tex(OLIVE,.1,.9),50),band(T2,[w7Core[1],w7Core[1]],T2,[w7Core[0],w7Core[0]],tex(OLIVE,.75,1),40),
      band(T2,[w7Bot[1],w7Bot[1]],T2,[w7Bot[0],w7Bot[0]],tex(OLIVE,.1,.95),50),spikes(w7Spikes,rgba(OLIVE,.85),60)]}
];
panels.forEach(makeChart);
</script>
</body></html>
